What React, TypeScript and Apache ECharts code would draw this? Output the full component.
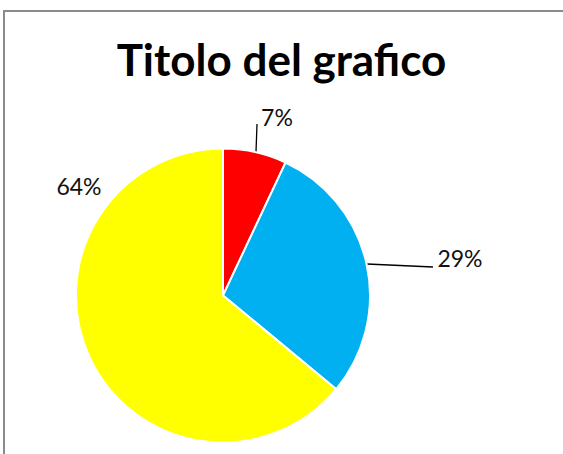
import React, { useEffect, useRef } from "react";
import * as echarts from "echarts";

const TITLE = "Titolo del grafico";
const categories = ["A", "B", "C"];
const values = [7, 29, 64];
const colors = ["#FF0000", "#00B0F0", "#FFFF00"];

// label placement (layout, not data)
const labelPos: [number, number][] = [
  [277, 117],
  [460, 258],
  [79, 186],
];
const linePts: ([number, number][] | null)[] = [
  [[256, 152], [256.5, 138], [257, 124]],
  [[367, 264], [400, 265.5], [433, 267]],
  null,
];

export default function App() {
  const ref = useRef<HTMLDivElement>(null);
  useEffect(() => {
    if (!ref.current) return;
    const chart = echarts.init(ref.current, undefined, { renderer: "svg" });
    chart.setOption({
      animation: false,
      backgroundColor: "#ffffff",
      title: {
        text: TITLE,
        left: "center",
        top: 32,
        textStyle: {
          fontFamily: "Lato",
          fontWeight: "bold",
          fontSize: 44,
          color: "#000000",
        },
      },
      graphic: [
        {
          type: "polyline",
          shape: { points: [[4, 460], [4, 11], [570, 11]] },
          style: { fill: "none", stroke: "#8a8a8a", lineWidth: 2 },
          silent: true,
        },
      ],
      series: [
        {
          type: "pie",
          center: [223, 295.5],
          radius: 147,
          startAngle: 90,
          clockwise: true,
          avoidLabelOverlap: false,
          itemStyle: { borderColor: "#ffffff", borderWidth: 2 },
          label: {
            show: true,
            position: "outside",
            formatter: "{d}%",
            fontFamily: "Lato",
            fontSize: 23,
            color: "#111111",
          },
          labelLine: {
            show: true,
            lineStyle: { color: "#000000", width: 1.3 },
          },
          labelLayout: (params: any) => {
            const i = params.dataIndex;
            const out: any = {
              x: labelPos[i][0],
              y: labelPos[i][1],
              align: "center",
              verticalAlign: "middle",
            };
            if (linePts[i]) out.labelLinePoints = linePts[i];
            return out;
          },
          data: categories.map((c, i) => ({
            name: c,
            value: values[i],
            itemStyle: { color: colors[i] },
            labelLine: { show: linePts[i] !== null },
          })),
        },
      ],
    });
    return () => chart.dispose();
  }, []);
  return (
    <div
      ref={ref}
      style={{ position: "absolute", left: 0, top: 0, width: 563, height: 454 }}
    />
  );
}
